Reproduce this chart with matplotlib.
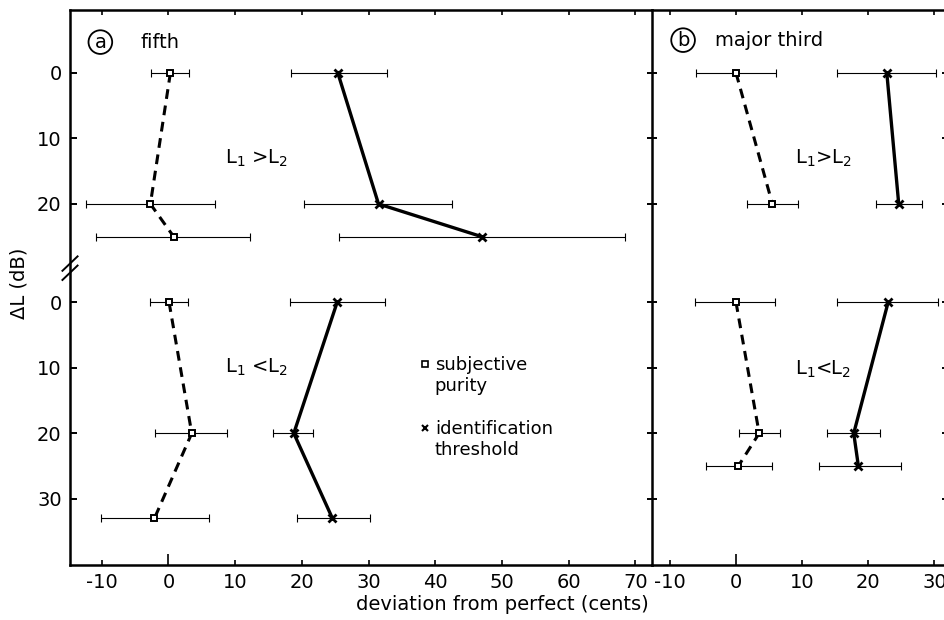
"""Deviation from perfect interval vs. level difference, fifth and major third."""

import matplotlib.pyplot as plt
import numpy as np
from matplotlib.lines import Line2D

plt.rcParams["font.family"] = ["DejaVu Sans"]

# lower block (L1 < L2) is drawn shifted down by this many dB on the axis
LOWER_SHIFT = 35

# ---- (a) fifth, L1 > L2
fifth_hi_dl = [0, 20, 25]
fifth_hi_pur = [0.3, -2.7, 0.8]
fifth_hi_pur_lo = [-2.6, -12.3, -10.9]
fifth_hi_pur_hi = [3.1, 7.0, 12.3]
fifth_hi_id = [25.4, 31.5, 47.0]
fifth_hi_id_lo = [18.4, 20.3, 25.6]
fifth_hi_id_hi = [32.7, 42.5, 68.5]

# ---- (a) fifth, L1 < L2
fifth_lo_dl = [0, 20, 33]
fifth_lo_pur = [0.1, 3.5, -2.1]
fifth_lo_pur_lo = [-2.7, -2.0, -10.1]
fifth_lo_pur_hi = [3.0, 8.8, 6.1]
fifth_lo_id = [25.3, 18.8, 24.6]
fifth_lo_id_lo = [18.3, 15.7, 19.3]
fifth_lo_id_hi = [32.5, 21.7, 30.2]

# ---- (b) major third, L1 > L2
third_hi_dl = [0, 20]
third_hi_pur = [0.0, 5.5]
third_hi_pur_lo = [-6.0, 1.6]
third_hi_pur_hi = [6.1, 9.3]
third_hi_id = [22.8, 24.6]
third_hi_id_lo = [15.2, 21.1]
third_hi_id_hi = [30.3, 28.1]

# ---- (b) major third, L1 < L2
third_lo_dl = [0, 20, 25]
third_lo_pur = [0.0, 3.5, 0.35]
third_lo_pur_lo = [-6.2, 0.45, -4.5]
third_lo_pur_hi = [5.9, 6.6, 5.4]
third_lo_id = [23.0, 17.8, 18.5]
third_lo_id_lo = [15.3, 13.7, 12.5]
third_lo_id_hi = [30.6, 21.7, 24.9]

ytick_labels = ["0", "10", "20", "0", "10", "20", "30"]
yticks_hi = [0, 10, 20]
yticks_lo = [0, 10, 20, 30]
xticks_a = [-10, 0, 10, 20, 30, 40, 50, 60, 70]
xticks_b = [-10, 0, 10, 20, 30]


def series(ax, dl, mean, lo, hi, shift, kind):
    y = np.asarray(dl, dtype=float) + shift
    m = np.asarray(mean, dtype=float)
    xerr = [m - np.asarray(lo), np.asarray(hi) - m]
    ax.errorbar(m, y, xerr=xerr, fmt="none", ecolor="k", elinewidth=0.8,
                capsize=3, capthick=0.8, zorder=2)
    if kind == "pur":
        ax.plot(m, y, color="k", lw=2.2, ls=(0, (3.2, 2.2)), marker="s", ms=5,
                mfc="white", mec="k", mew=1.4, zorder=3)
    else:
        ax.plot(m, y, color="k", lw=2.4, ls="-", marker="x", ms=6,
                mec="k", mew=2.0, zorder=3)


def style(ax, xticks, xlim):
    ax.set_xlim(*xlim)
    ax.set_ylim(75.1, -9.6)
    ax.set_xticks(xticks)
    ax.set_xticklabels([str(t) for t in xticks])
    for s in ax.spines.values():
        s.set_linewidth(1.8)
    ax.tick_params(axis="x", which="major", direction="in", top=True,
                   length=3.5, width=1.2, labelsize=14, pad=6)
    # the zero tick is drawn longer on the bottom axis
    for t, v in zip(ax.xaxis.get_major_ticks(), xticks):
        if v == 0:
            t.tick1line.set_markersize(8)


fig = plt.figure(figsize=(9.45, 6.2), dpi=100)
ax_a = fig.add_axes([70 / 945, 55 / 620, 582 / 945, 555 / 620])
ax_b = fig.add_axes([652 / 945, 55 / 620, 295 / 945, 555 / 620])

style(ax_a, xticks_a, (-14.75, 72.5))
style(ax_b, xticks_b, (-12.7, 31.9))

ypos = yticks_hi + [v + LOWER_SHIFT for v in yticks_lo]
ax_a.set_yticks(ypos)
ax_a.set_yticklabels(ytick_labels)
ax_a.tick_params(axis="y", direction="in", length=5, width=1.4, labelsize=14, pad=6)
ax_a.spines["right"].set_visible(False)
ax_b.set_yticks(ypos)
ax_b.tick_params(axis="y", direction="inout", length=7, width=1.4,
                 labelleft=False, right=True)

series(ax_a, fifth_hi_dl, fifth_hi_pur, fifth_hi_pur_lo, fifth_hi_pur_hi, 0, "pur")
series(ax_a, fifth_hi_dl, fifth_hi_id, fifth_hi_id_lo, fifth_hi_id_hi, 0, "id")
series(ax_a, fifth_lo_dl, fifth_lo_pur, fifth_lo_pur_lo, fifth_lo_pur_hi, LOWER_SHIFT, "pur")
series(ax_a, fifth_lo_dl, fifth_lo_id, fifth_lo_id_lo, fifth_lo_id_hi, LOWER_SHIFT, "id")
series(ax_b, third_hi_dl, third_hi_pur, third_hi_pur_lo, third_hi_pur_hi, 0, "pur")
series(ax_b, third_hi_dl, third_hi_id, third_hi_id_lo, third_hi_id_hi, 0, "id")
series(ax_b, third_lo_dl, third_lo_pur, third_lo_pur_lo, third_lo_pur_hi, LOWER_SHIFT, "pur")
series(ax_b, third_lo_dl, third_lo_id, third_lo_id_lo, third_lo_id_hi, LOWER_SHIFT, "id")

# panel tags
circ = dict(boxstyle="circle,pad=0.12", fc="none", ec="k", lw=1.3)
ax_a.text(-10.2, -4.7, "a", fontsize=14, ha="center", va="center", bbox=circ)
ax_a.text(-4.2, -4.7, "fifth", fontsize=14, ha="left", va="center")
ax_b.text(-8.0, -5.0, "b", fontsize=14, ha="center", va="center", bbox=circ)
ax_b.text(-3.2, -5.0, "major third", fontsize=14, ha="left", va="center")

ax_a.text(8.5, 13.0, "L$_1$ >L$_2$", fontsize=14, ha="left", va="center")
ax_a.text(8.5, 44.9, "L$_1$ <L$_2$", fontsize=14, ha="left", va="center")
ax_b.text(8.9, 13.0, "L$_1$>L$_2$", fontsize=14, ha="left", va="center")
ax_b.text(8.9, 45.3, "L$_1$<L$_2$", fontsize=14, ha="left", va="center")

# legend, two blocks so the marker sits on the first line
blank = Line2D([], [], ls="none")
sq = Line2D([], [], ls="none", marker="s", ms=4, mfc="white", mec="k", mew=1.2)
cr = Line2D([], [], ls="none", marker="x", ms=4.5, mec="k", mew=1.5)
leg_kw = dict(loc="upper left", frameon=False, fontsize=13, handlelength=0.5,
              handletextpad=0.3, labelspacing=0.15, borderpad=0, borderaxespad=0)
leg1 = ax_a.legend([sq, blank], ["subjective", "purity"],
                   bbox_to_anchor=(0.602, 0.376), **leg_kw)
ax_a.add_artist(leg1)
ax_a.legend([cr, blank], ["identification", "threshold"],
            bbox_to_anchor=(0.602, 0.261), **leg_kw)

# axis break on the left spine
tr = ax_a.get_yaxis_transform()
for dy in (-0.7, 0.7):
    ax_a.plot([-0.013, 0.013], [30.9 + dy, 28.7 + dy], color="k", lw=1.4,
              transform=tr, clip_on=False, zorder=5)

ax_a.set_ylabel("ΔL (dB)", fontsize=14)
ax_a.yaxis.set_label_coords(-0.072, 0.508)
fig.text(0.532, 1 - 605 / 620, "deviation from perfect (cents)", fontsize=14,
         ha="center", va="center")

fig.savefig("out.png", dpi=100)
